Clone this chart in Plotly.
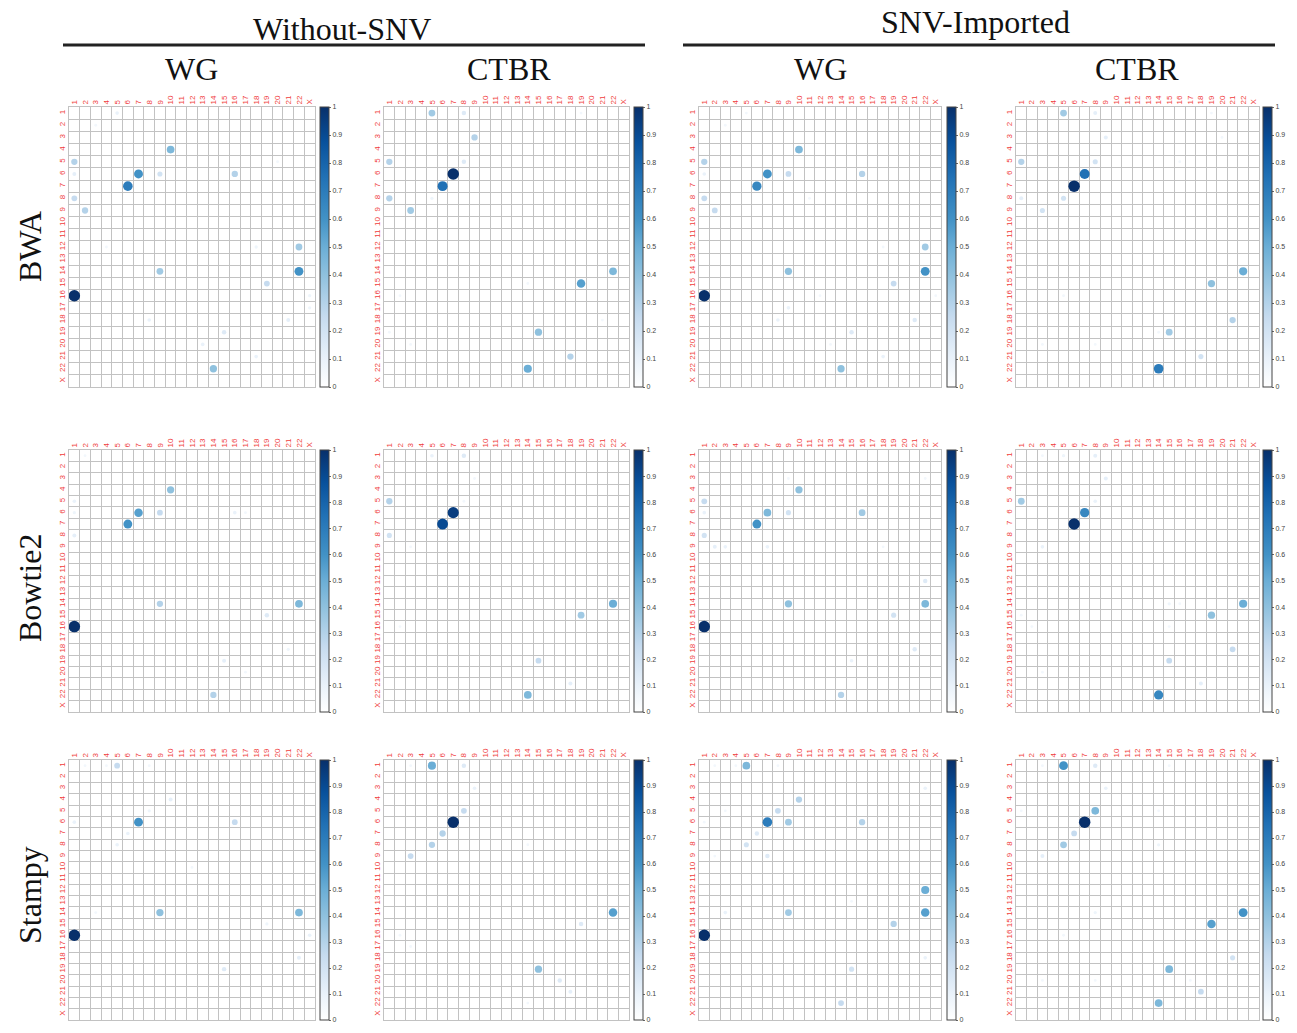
import plotly.graph_objects as go

# ---------------- data ----------------
CHROMS = ["1", "2", "3", "4", "5", "6", "7", "8", "9", "10", "11", "12",
          "13", "14", "15", "16", "17", "18", "19", "20", "21", "22", "X"]
CB_TICKVALS = [0, 0.1, 0.2, 0.3, 0.4, 0.5, 0.6, 0.7, 0.8, 0.9, 1]
CB_TICKTEXT = ["0", "0.1", "0.2", "0.3", "0.4", "0.5", "0.6", "0.7", "0.8", "0.9", "1"]
GROUPS = ["Without-SNV", "SNV-Imported"]
METHODS = ["WG", "CTBR"]
ALIGNERS = ["BWA", "Bowtie2", "Stampy"]

# BWA, Without-SNV, WG
BWA_WO_WG_ROW = [4, 6, 7, 5, 6, 8, 9, 6, 6, 1, 12, 14, 14, 16, 15, 22, 19, 21, 20, 18, 18, 16, 17, 12, 12, 5, 2]
BWA_WO_WG_COL = [10, 7, 6, 1, 1, 1, 2, 9, 16, 5, 22, 22, 9, 1, 19, 14, 15, 18, 13, 21, 8, "X", "X", 4, 18, 20, 3]
BWA_WO_WG_VAL = [.45, .6, .7, .3, .12, .25, .3, .2, .3, .1, .35, .6, .35, 1.0, .25, .4, .15, .1, .1, .12, .1, .08, .08, .06, .08, .06, .06]
# BWA, Without-SNV, CTBR
BWA_WO_CT_ROW = [1, 1, 3, 5, 5, 6, 7, 8, 8, 9, 14, 15, 15, 19, 21, 22, 20, 16, 19, 1, 18]
BWA_WO_CT_COL = [5, 8, 9, 1, 8, 7, 6, 1, 5, 3, 22, 19, 14, 15, 18, 14, 3, 2, 1, 19, 21]
BWA_WO_CT_VAL = [.35, .15, .3, .3, .15, 1.0, .75, .3, .08, .35, .45, .55, .06, .4, .3, .5, .06, .06, .06, .06, .06]
# BWA, SNV-Imported, WG
BWA_SI_WG_ROW = [4, 6, 7, 5, 6, 8, 9, 6, 6, 1, 2, 12, 14, 14, 16, 15, 22, 19, 21, 20, 18, 18, 16, 17, 8, 12, 16]
BWA_SI_WG_COL = [10, 7, 6, 1, 1, 1, 2, 9, 16, 5, 3, 22, 22, 9, 1, 19, 14, 15, 18, 13, 21, 8, "X", 9, 11, 18, 12]
BWA_SI_WG_VAL = [.45, .6, .65, .3, .1, .25, .25, .25, .3, .06, .06, .35, .6, .4, 1.0, .25, .4, .15, .1, .06, .15, .1, .06, .1, .06, .06, .06]
# BWA, SNV-Imported, CTBR
BWA_SI_CT_ROW = [1, 1, 3, 5, 5, 6, 7, 8, 8, 9, 14, 15, 18, 19, 21, 22, 19, 1, 3, 5, 16, 20, 20]
BWA_SI_CT_COL = [5, 8, 9, 1, 8, 7, 6, 1, 5, 3, 22, 19, 21, 15, 18, 14, 14, 19, 20, 16, 5, 3, 8]
BWA_SI_CT_VAL = [.35, .12, .12, .3, .2, .75, 1.0, .12, .2, .2, .5, .4, .3, .35, .2, .7, .06, .06, .06, .06, .06, .06, .06]

# Bowtie2, Without-SNV, WG
BT2_WO_WG_ROW = [4, 6, 7, 6, 5, 6, 8, 14, 14, 16, 15, 19, 22, 18, 6, 6, 20, 1]
BT2_WO_WG_COL = [10, 7, 6, 9, 1, 1, 1, 22, 9, 1, 19, 15, 14, 21, 16, 17, 17, 2]
BT2_WO_WG_VAL = [.4, .55, .6, .25, .1, .08, .12, .45, .3, 1.0, .15, .12, .3, .08, .1, .06, .06, .06]
# Bowtie2, Without-SNV, CTBR
BT2_WO_CT_ROW = [1, 1, 5, 6, 7, 8, 14, 15, 19, 21, 22, 16, 9, 5, 3]
BT2_WO_CT_COL = [5, 8, 1, 7, 6, 1, 22, 19, 15, 18, 14, 2, 3, 8, 9]
BT2_WO_CT_VAL = [.1, .15, .3, .95, .9, .2, .5, .35, .25, .12, .45, .06, .06, .06, .06]
# Bowtie2, SNV-Imported, WG
BT2_SI_WG_ROW = [4, 6, 7, 6, 6, 5, 6, 8, 9, 9, 9, 14, 12, 14, 16, 15, 18, 19, 22, 3, 3, 9]
BT2_SI_WG_COL = [10, 7, 6, 9, 16, 1, 1, 1, 2, 3, 7, 22, 22, 9, 1, 19, 21, 15, 14, 9, 22, 18]
BT2_SI_WG_VAL = [.4, .45, .6, .2, .35, .25, .1, .2, .12, .1, .1, .45, .15, .4, 1.0, .2, .15, .1, .3, .06, .06, .06]
# Bowtie2, SNV-Imported, CTBR
BT2_SI_CT_ROW = [5, 6, 7, 1, 1, 1, 3, 5, 9, 14, 15, 14, 14, 18, 19, 21, 22, 16, 15, 16, 20]
BT2_SI_CT_COL = [1, 7, 6, 8, 5, 3, 9, 8, 3, 22, 19, 15, 16, 21, 15, 18, 14, 15, 1, 2, 3]
BT2_SI_CT_VAL = [.35, .65, 1.0, .12, .08, .06, .12, .1, .1, .5, .4, .08, .06, .25, .25, .12, .65, .06, .06, .06, .06]

# Stampy, Without-SNV, WG
STP_WO_WG_ROW = [1, 1, 1, 1, 6, 4, 5, 7, 8, 6, 6, 14, 14, 16, 15, 16, 18, 19, 10, 14]
STP_WO_WG_COL = [5, 2, 4, 8, 7, 10, 8, 6, 5, 1, 16, 9, 22, 1, 19, "X", 22, 15, 12, 3]
STP_WO_WG_VAL = [.25, .06, .06, .06, .6, .12, .08, .1, .1, .1, .25, .4, .45, 1.0, .08, .1, .12, .15, .06, .06]
# Stampy, Without-SNV, CTBR
STP_WO_CT_ROW = [1, 1, 1, 3, 5, 6, 7, 8, 9, 8, 14, 15, 19, 20, 21, 16, 17, 22]
STP_WO_CT_COL = [5, 8, 3, 9, 8, 7, 6, 5, 3, 14, 22, 19, 15, 17, 18, 2, 3, 14]
STP_WO_CT_VAL = [.5, .15, .06, .1, .25, 1.0, .3, .3, .25, .06, .55, .15, .4, .15, .12, .06, .06, .06]
# Stampy, SNV-Imported, WG
STP_SI_WG_ROW = [1, 1, 1, 1, 4, 5, 6, 6, 6, 7, 8, 9, 9, 5, 6, 3, 12, 14, 14, 14, 16, 15, 18, 19, 22, 13]
STP_SI_WG_COL = [5, 2, 4, 8, 10, 8, 7, 9, 16, 6, 5, 7, 2, 3, 1, 22, 22, 22, 9, 3, 1, 19, 22, 15, 14, 15]
STP_SI_WG_VAL = [.45, .06, .06, .06, .3, .25, .7, .35, .3, .15, .2, .15, .06, .06, .06, .1, .5, .55, .35, .1, 1.0, .3, .1, .2, .25, .06]
# Stampy, SNV-Imported, CTBR
STP_SI_CT_ROW = [1, 1, 1, 1, 3, 5, 6, 7, 8, 9, 5, 5, 8, 14, 14, 15, 18, 19, 21, 22, 20, 20, 16, 20]
STP_SI_CT_COL = [5, 8, 3, 15, 9, 8, 7, 6, 5, 3, 1, 14, 14, 8, 22, 19, 21, 15, 18, 14, 3, 8, 5, 17]
STP_SI_CT_VAL = [.6, .15, .06, .06, .1, .45, 1.0, .25, .35, .12, .06, .06, .08, .08, .6, .55, .2, .45, .25, .45, .06, .06, .06, .06]

# ---------------- styling / layout ----------------
PAGE_MARGIN = 8                      # default body margin of the html page
W, H = 1297 - 2 * PAGE_MARGIN, 1033 - 2 * PAGE_MARGIN
COL_PX = [(69, 315), (384, 629), (699, 941), (1016, 1259)]   # screen px
ROW_PX = [(107, 387), (450, 712), (760, 1020)]
CB_LEFT = [320, 634, 947, 1263]
DOT_MAX = 11.5
RED = "#f03c3c"
GRID = "#c2c2c2"
SERIF = "Liberation Serif, Times New Roman, serif"
CSCALE = [[0, "#ffffff"], [0.1, "#eaf2fa"], [0.25, "#c6dbef"], [0.4, "#8fc1de"],
          [0.5, "#6baed6"], [0.6, "#4292c6"], [0.75, "#2171b5"], [0.875, "#08519c"],
          [1, "#08306b"]]


def px(xs):
    return (xs - PAGE_MARGIN) / W


def py(ys):
    return 1 - (ys - PAGE_MARGIN) / H


PANELS = [
    (0, 0, BWA_WO_WG_ROW, BWA_WO_WG_COL, BWA_WO_WG_VAL),
    (0, 1, BWA_WO_CT_ROW, BWA_WO_CT_COL, BWA_WO_CT_VAL),
    (0, 2, BWA_SI_WG_ROW, BWA_SI_WG_COL, BWA_SI_WG_VAL),
    (0, 3, BWA_SI_CT_ROW, BWA_SI_CT_COL, BWA_SI_CT_VAL),
    (1, 0, BT2_WO_WG_ROW, BT2_WO_WG_COL, BT2_WO_WG_VAL),
    (1, 1, BT2_WO_CT_ROW, BT2_WO_CT_COL, BT2_WO_CT_VAL),
    (1, 2, BT2_SI_WG_ROW, BT2_SI_WG_COL, BT2_SI_WG_VAL),
    (1, 3, BT2_SI_CT_ROW, BT2_SI_CT_COL, BT2_SI_CT_VAL),
    (2, 0, STP_WO_WG_ROW, STP_WO_WG_COL, STP_WO_WG_VAL),
    (2, 1, STP_WO_CT_ROW, STP_WO_CT_COL, STP_WO_CT_VAL),
    (2, 2, STP_SI_WG_ROW, STP_SI_WG_COL, STP_SI_WG_VAL),
    (2, 3, STP_SI_CT_ROW, STP_SI_CT_COL, STP_SI_CT_VAL),
]

fig = go.Figure()
layout_axes = {}
for k, (ri, ci, rows, cols, vals) in enumerate(PANELS):
    n = k + 1
    sfx = "" if n == 1 else str(n)
    x0, x1 = COL_PX[ci]
    y0, y1 = ROW_PX[ri]
    xs = [CHROMS.index(str(c)) + 1 for c in cols]
    ys = [CHROMS.index(str(r)) + 1 for r in rows]
    sizes = [DOT_MAX * v ** 0.5 for v in vals]
    fig.add_trace(go.Scatter(
        x=xs, y=ys, mode="markers", xaxis="x" + sfx, yaxis="y" + sfx,
        hoverinfo="skip", showlegend=False,
        marker=dict(
            size=sizes, color=vals, cmin=0, cmax=1, colorscale=CSCALE, opacity=1,
            showscale=True, line=dict(width=0),
            colorbar=dict(
                x=px(CB_LEFT[ci]), xanchor="left", xpad=0,
                y=py((y0 + y1) / 2), yanchor="middle", ypad=0,
                len=(y1 - y0) / H, lenmode="fraction", thickness=9,
                outlinecolor="#444444", outlinewidth=1,
                tickmode="array", tickvals=CB_TICKVALS, ticktext=CB_TICKTEXT,
                tickfont=dict(size=7, color="#444444", family="Arial"),
                ticks="outside", ticklen=2, tickcolor="#666666",
            ),
        ),
    ))
    common = dict(
        tickmode="array", tickvals=list(range(1, 24)), ticktext=CHROMS,
        tickangle=-90, tickfont=dict(size=8, color=RED, family="Arial"),
        showgrid=False, zeroline=False, showline=True, mirror=True,
        linecolor=GRID, linewidth=1, ticks="", fixedrange=True,
        minor=dict(tickmode="linear", tick0=0.5, dtick=1, showgrid=True,
                   gridcolor=GRID, gridwidth=1),
    )
    layout_axes["xaxis" + sfx] = dict(
        common, domain=[px(x0), px(x1)], anchor="y" + sfx,
        range=[0.5, 23.5], side="top")
    layout_axes["yaxis" + sfx] = dict(
        common, domain=[py(y1), py(y0)], anchor="x" + sfx,
        range=[23.5, 0.5], autorange=False)

fig.update_layout(**layout_axes)

annotations = []
GROUP_X = [342, 976]
GROUP_Y = [29, 22]
for g, gx, gy in zip(GROUPS, GROUP_X, GROUP_Y):
    annotations.append(dict(text=g, x=px(gx), y=py(gy), xref="paper", yref="paper",
                            showarrow=False, xanchor="center", yanchor="middle",
                            font=dict(family=SERIF, size=32, color="#111111")))
METHOD_X = [191, 509, 820, 1137]
for i, mx in enumerate(METHOD_X):
    annotations.append(dict(text=METHODS[i % 2], x=px(mx), y=py(69), xref="paper", yref="paper",
                            showarrow=False, xanchor="center", yanchor="middle",
                            font=dict(family=SERIF, size=32, color="#111111")))
ALIGNER_Y = [247, 588, 895]
for a, ay in zip(ALIGNERS, ALIGNER_Y):
    annotations.append(dict(text=a, x=px(30), y=py(ay), xref="paper", yref="paper",
                            showarrow=False, xanchor="center", yanchor="middle", textangle=-90,
                            font=dict(family=SERIF, size=32, color="#111111")))

shapes = [
    dict(type="line", xref="paper", yref="paper", x0=px(63), x1=px(645),
         y0=py(45), y1=py(45), line=dict(color="#222222", width=3)),
    dict(type="line", xref="paper", yref="paper", x0=px(683), x1=px(1275),
         y0=py(45), y1=py(45), line=dict(color="#222222", width=3)),
]

fig.update_layout(
    width=W, height=H, margin=dict(l=0, r=0, t=0, b=0),
    paper_bgcolor="white", plot_bgcolor="white",
    annotations=annotations, shapes=shapes, showlegend=False,
)

fig.write_html("out.html")
